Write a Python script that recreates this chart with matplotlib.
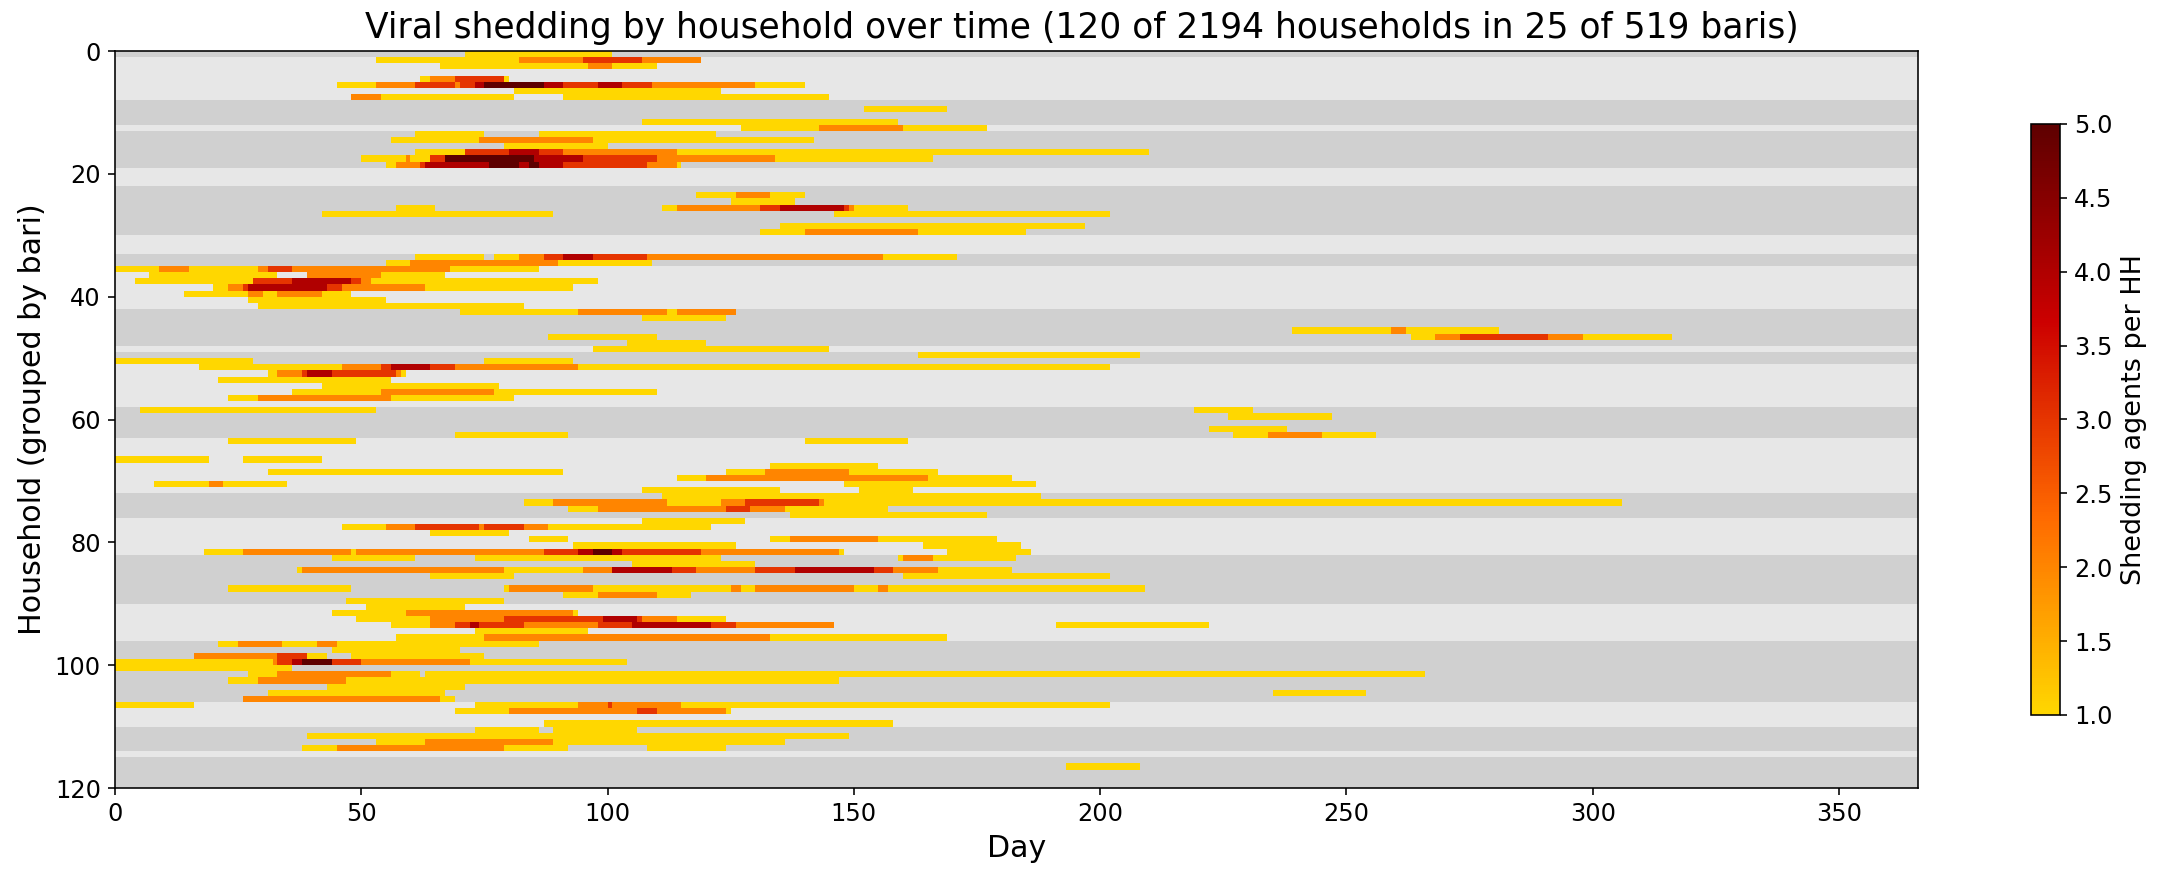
import numpy as np
import matplotlib
matplotlib.use("Agg")
import matplotlib.pyplot as plt
from matplotlib.colors import LinearSegmentedColormap

N_HH = 120
N_DAYS = 366

# first household row of each bari (25 baris)
bari_starts = [0, 1, 8, 12, 13, 19, 22, 30, 33, 35, 42, 48, 49, 51, 58, 63,
               72, 76, 82, 90, 96, 106, 110, 114, 115]

# shedding episodes as (household row, first day, day after last), one list per level
level1 = [(0, 71, 101), (1, 53, 82), (2, 66, 96), (2, 101, 110), (4, 62, 64), (4, 79, 80),
          (5, 45, 53), (5, 130, 140), (6, 81, 123), (7, 54, 81), (7, 91, 145), (9, 152, 169),
          (11, 107, 159), (12, 127, 143), (12, 160, 177), (13, 61, 75), (13, 86, 122),
          (14, 56, 74), (14, 97, 142), (15, 79, 100), (16, 61, 71), (16, 114, 210),
          (17, 50, 59), (17, 60, 64), (17, 134, 166), (18, 55, 57), (18, 114, 115),
          (23, 118, 126), (23, 133, 140), (24, 125, 138), (25, 57, 65), (25, 111, 114),
          (25, 150, 161), (26, 42, 89), (26, 146, 202), (28, 135, 197), (29, 131, 140),
          (29, 163, 185), (33, 61, 75), (33, 77, 82), (33, 156, 171), (34, 55, 60),
          (34, 90, 109), (35, 0, 9), (35, 15, 29), (35, 68, 86), (36, 7, 33), (36, 54, 67),
          (37, 4, 28), (37, 52, 98), (38, 20, 23), (38, 63, 93), (39, 14, 27), (39, 30, 33),
          (39, 42, 48), (40, 27, 55), (41, 29, 83), (42, 70, 94), (42, 112, 114),
          (43, 107, 124), (45, 239, 259), (45, 262, 281), (46, 88, 110), (46, 263, 268),
          (46, 298, 316), (47, 104, 120), (48, 97, 145), (49, 163, 208), (50, 0, 28),
          (50, 75, 93), (51, 17, 46), (51, 94, 202), (52, 31, 33), (52, 58, 59), (53, 21, 56),
          (54, 42, 78), (55, 36, 54), (55, 77, 110), (56, 23, 29), (56, 56, 81), (58, 5, 53),
          (58, 219, 231), (59, 226, 247), (61, 222, 238), (62, 69, 92), (62, 227, 234),
          (62, 245, 256), (63, 23, 49), (63, 140, 161), (66, 0, 19), (66, 26, 42),
          (67, 133, 155), (68, 31, 91), (68, 124, 132), (68, 149, 167), (69, 114, 120),
          (69, 165, 182), (70, 8, 19), (70, 22, 35), (70, 148, 187), (71, 107, 135),
          (71, 151, 162), (72, 111, 188), (73, 83, 89), (73, 112, 123), (73, 144, 306),
          (74, 92, 98), (74, 136, 157), (75, 137, 177), (76, 107, 128), (77, 46, 55),
          (77, 88, 121), (78, 64, 80), (79, 84, 92), (79, 133, 137), (79, 155, 179),
          (80, 93, 126), (80, 164, 184), (81, 18, 26), (81, 48, 49), (81, 147, 148),
          (81, 169, 186), (82, 44, 61), (82, 73, 123), (82, 159, 160), (82, 166, 183),
          (83, 105, 130), (84, 37, 38), (84, 79, 95), (84, 167, 182), (85, 64, 81),
          (85, 160, 202), (87, 23, 48), (87, 79, 80), (87, 97, 125), (87, 127, 130),
          (87, 150, 155), (87, 157, 209), (88, 91, 98), (88, 110, 117), (89, 47, 79),
          (90, 51, 71), (91, 44, 59), (91, 93, 94), (92, 49, 64), (92, 114, 124), (93, 56, 64),
          (93, 191, 222), (94, 73, 96), (95, 57, 75), (95, 133, 169), (96, 21, 25),
          (96, 34, 41), (96, 45, 86), (97, 44, 70), (98, 39, 43), (98, 48, 75), (99, 0, 32),
          (99, 72, 104), (100, 0, 36), (101, 27, 33), (101, 56, 62), (101, 63, 266),
          (102, 23, 29), (102, 47, 147), (103, 43, 71), (104, 31, 67), (104, 235, 254),
          (105, 66, 69), (106, 0, 16), (106, 73, 94), (106, 115, 202), (107, 69, 80),
          (107, 124, 125), (109, 87, 158), (110, 73, 86), (110, 89, 106), (111, 39, 149),
          (112, 53, 63), (112, 89, 136), (113, 38, 45), (113, 79, 92), (113, 108, 124),
          (116, 193, 208)]
level2 = [(1, 82, 95), (1, 107, 119), (2, 96, 101), (4, 64, 69), (5, 53, 61), (5, 69, 70),
          (5, 109, 130), (7, 48, 54), (12, 143, 160), (14, 74, 97), (16, 91, 114),
          (17, 59, 60), (17, 110, 134), (18, 57, 62), (18, 108, 114), (23, 126, 133),
          (25, 114, 131), (25, 149, 150), (29, 140, 163), (33, 82, 87), (33, 108, 156),
          (34, 60, 90), (35, 9, 15), (35, 29, 31), (35, 36, 68), (36, 39, 54), (37, 50, 52),
          (38, 23, 26), (38, 46, 63), (39, 27, 30), (39, 33, 42), (42, 94, 112),
          (42, 114, 126), (45, 259, 262), (46, 268, 273), (46, 291, 298), (51, 46, 54),
          (51, 69, 94), (52, 33, 38), (52, 57, 58), (55, 54, 77), (56, 29, 56),
          (62, 234, 245), (68, 132, 149), (69, 120, 165), (70, 19, 22), (73, 89, 112),
          (73, 123, 128), (73, 143, 144), (74, 98, 124), (74, 129, 136), (77, 55, 61),
          (77, 74, 75), (77, 83, 88), (79, 137, 155), (81, 26, 48), (81, 49, 87),
          (81, 119, 147), (82, 160, 166), (84, 38, 79), (84, 95, 101), (84, 118, 130),
          (84, 158, 167), (87, 80, 97), (87, 125, 127), (87, 130, 150), (87, 155, 157),
          (88, 98, 110), (91, 59, 93), (92, 64, 79), (92, 107, 114), (93, 64, 69),
          (93, 83, 98), (93, 126, 146), (95, 75, 133), (96, 25, 34), (96, 41, 45),
          (98, 16, 33), (99, 32, 33), (99, 50, 72), (101, 33, 56), (102, 29, 47),
          (105, 26, 66), (106, 94, 100), (106, 101, 115), (107, 80, 106), (107, 110, 124),
          (112, 63, 89), (113, 45, 79)]
level3 = [(1, 95, 107), (4, 69, 79), (5, 61, 69), (5, 70, 73), (5, 91, 98), (5, 103, 109),
          (16, 71, 80), (16, 86, 91), (17, 64, 67), (17, 95, 110), (18, 62, 63), (18, 91, 108),
          (25, 131, 135), (25, 148, 149), (33, 87, 91), (33, 97, 108), (35, 31, 36),
          (37, 28, 36), (37, 48, 50), (38, 26, 27), (38, 43, 46), (46, 273, 291),
          (51, 54, 56), (51, 64, 69), (52, 38, 39), (52, 44, 57), (73, 128, 143),
          (74, 124, 129), (77, 61, 74), (77, 75, 83), (81, 87, 94), (81, 103, 119),
          (84, 113, 118), (84, 130, 138), (84, 154, 158), (92, 79, 99), (92, 106, 107),
          (93, 69, 72), (93, 74, 83), (93, 98, 105), (93, 121, 126), (98, 33, 39),
          (99, 33, 36), (99, 44, 50), (106, 100, 101), (107, 106, 110)]
level4 = [(5, 73, 75), (5, 87, 91), (5, 98, 103), (16, 80, 86), (17, 85, 95), (18, 63, 76),
          (18, 82, 84), (18, 86, 91), (25, 135, 148), (33, 91, 97), (37, 36, 48), (38, 27, 43),
          (51, 56, 64), (52, 39, 44), (81, 94, 97), (81, 101, 103), (84, 101, 113),
          (84, 138, 154), (92, 99, 106), (93, 72, 74), (93, 105, 121), (99, 36, 38)]
level5 = [(5, 75, 87), (17, 67, 85), (18, 76, 82), (18, 84, 86), (81, 97, 101), (99, 38, 44)]

n_total_hh = 2194
n_total_bari = 519


def build_matrix():
    mat = np.full((N_HH, N_DAYS), np.nan)
    for level, segs in enumerate([level1, level2, level3, level4, level5], start=1):
        for hh, d0, d1 in segs:
            mat[hh, d0:d1] = level
    return mat


def main():
    mat = build_matrix()

    cmap = LinearSegmentedColormap.from_list(
        "shed", ["#ffd700", "#ff6a00", "#cc0000", "#5e0000"])

    dpi = 144
    fig = plt.figure(figsize=(2164 / dpi, 880 / dpi), dpi=dpi)
    ax = fig.add_axes([0.0531, 0.1045, 0.8332, 0.8375])
    cax = fig.add_axes([0.9386, 0.1875, 0.0134, 0.6716])

    # alternating grey bands, one per bari
    edges = bari_starts + [N_HH]
    for i in range(len(bari_starts)):
        color = "#d0d0d0" if i % 2 == 0 else "#e7e7e7"
        ax.axhspan(edges[i], edges[i + 1], color=color, lw=0, zorder=0)

    x = np.arange(N_DAYS + 1)
    y = np.arange(N_HH + 1)
    mesh = ax.pcolormesh(x, y, np.ma.masked_invalid(mat), cmap=cmap,
                         vmin=1, vmax=5, zorder=1)

    ax.set_xlim(0, N_DAYS)
    ax.set_ylim(N_HH, 0)
    ax.set_xticks(np.arange(0, 351, 50))
    ax.set_yticks(np.arange(0, 121, 20))
    ax.tick_params(labelsize=12)
    ax.set_xlabel("Day", fontsize=15)
    ax.set_ylabel("Household (grouped by bari)", fontsize=15)
    fig.suptitle("Viral shedding by household over time (%d of %d households in %d of %d baris)"
                 % (N_HH, n_total_hh, len(bari_starts), n_total_bari),
                 fontsize=17.28, y=0.988)

    cb = fig.colorbar(mesh, cax=cax)
    cb.set_label("Shedding agents per HH", fontsize=13.5)
    cb.ax.tick_params(labelsize=12)
    cb.set_ticks(np.arange(1, 5.01, 0.5))

    fig.savefig("out.png", dpi=dpi)


if __name__ == "__main__":
    main()
